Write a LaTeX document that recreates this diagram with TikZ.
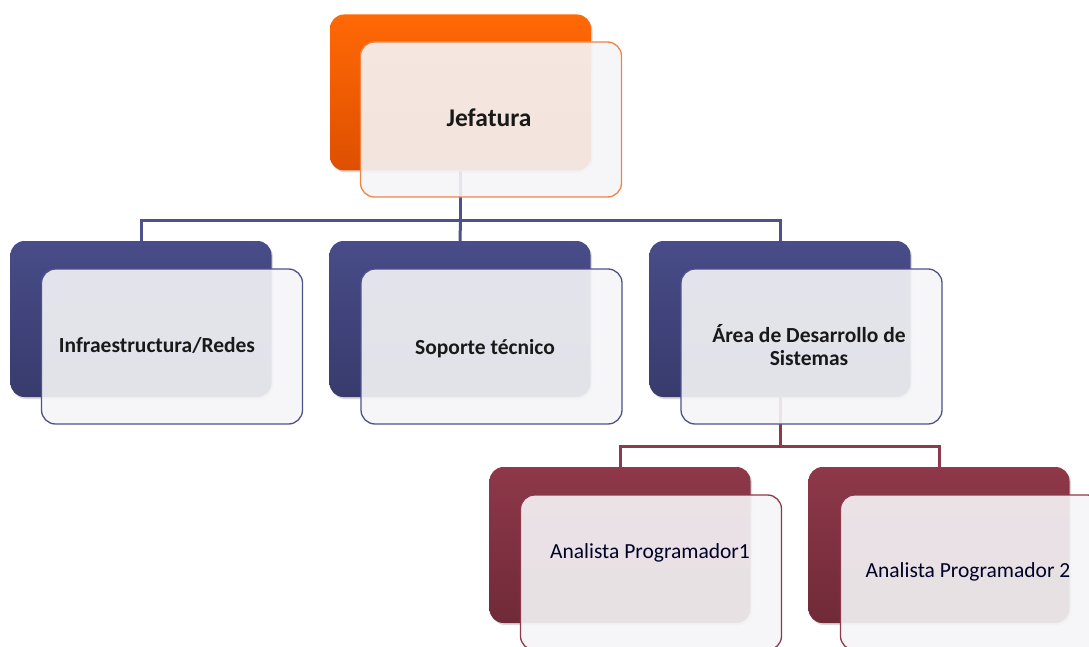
\documentclass[tikz,border=0pt]{standalone}
\usepackage{fontspec}
\setmainfont{Carlito}
\usetikzlibrary{shadows}
\definecolor{orgtop}{RGB}{255,104,6}
\definecolor{orgbot}{RGB}{222,80,0}
\definecolor{orgline}{RGB}{240,132,70}
\definecolor{blutop}{RGB}{72,76,136}
\definecolor{blubot}{RGB}{56,59,108}
\definecolor{bluline}{RGB}{78,82,140}
\definecolor{martop}{RGB}{142,56,74}
\definecolor{marbot}{RGB}{112,42,56}
\definecolor{marline}{RGB}{138,58,76}
\definecolor{cardfill}{RGB}{245,245,247}
\begin{document}
\begin{tikzpicture}[x=1pt,y=-1pt,
  backbox/.style={rounded corners=14pt, minimum width=261pt, minimum height=156pt,
    inner sep=0pt, draw=none,
    drop shadow={opacity=0.3, shadow xshift=1.5pt, shadow yshift=-2pt}},
  orgback/.style={backbox, top color=orgtop, middle color=orgtop, bottom color=orgbot},
  bluback/.style={backbox, top color=blutop, middle color=blutop, bottom color=blubot},
  marback/.style={backbox, top color=martop, middle color=martop, bottom color=marbot},
  card/.style={rounded corners=14pt, minimum width=261pt, minimum height=155pt,
    inner sep=0pt, fill=cardfill, fill opacity=0.9, line width=1.3pt},
  orgcard/.style={card, draw=orgline},
  blucard/.style={card, draw=bluline},
  marcard/.style={card, draw=marline},
  bigtxt/.style={font=\fontsize{25.5}{28}\selectfont\bfseries, text=black!90},
  midtxt/.style={font=\fontsize{21.5}{23.5}\selectfont\bfseries, text=black!90, align=center},
  lowtxt/.style={font=\fontsize{21.5}{23.5}\selectfont, text=black!85!blue},
  bluconn/.style={draw=bluline, line width=3pt},
  marconn/.style={draw=marline, line width=3pt}
]
\useasboundingbox (0,0) rectangle (1089,647);

% back blocks
\node[orgback] (jefb) at (460.5,92.5) {};
\node[bluback] (infb) at (141,319) {};
\node[bluback] (sopb) at (460,319) {};
\node[bluback] (areb) at (780,319) {};
\node[marback] (an1b) at (620,545) {};
\node[marback] (an2b) at (939,545) {};

% connectors
\coordinate (bus1) at (460.5,220);
\coordinate (bus2) at (780,446);
\draw[bluconn] (jefb.south) -- (bus1) -| (infb.north);
\draw[bluconn] (bus1) -| (areb.north);
\draw[bluconn] (bus1) -- (sopb.north);
\draw[marconn] (areb.south) -- (bus2) -| (an1b.north);
\draw[marconn] (bus2) -| (an2b.north);

% front cards
\node[orgcard] (jeff) at (491,119.5) {};
\node[blucard] (inff) at (172,346.5) {};
\node[blucard] (sopf) at (491.5,346.5) {};
\node[blucard] (aref) at (811.5,346.5) {};
\node[marcard] (an1f) at (651,572.5) {};
\node[marcard] (an2f) at (971,572.5) {};

% labels
\node[bigtxt] (jeft) at (489,118) {Jefatura};
\node[midtxt] (inft) at (157,345) {Infraestructura/Redes};
\node[midtxt] (sopt) at (485,349) {Soporte técnico};
\node[midtxt] (aret) at (809,345) {Área de Desarrollo de\\Sistemas};
\node[lowtxt] (an1t) at (650,553) {Analista Programador1};
\node[lowtxt] (an2t) at (968,572) {Analista Programador 2};
\end{tikzpicture}
\end{document}
